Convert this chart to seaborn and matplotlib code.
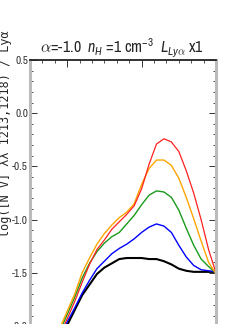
import matplotlib
matplotlib.use("Agg")
import matplotlib.pyplot as plt
import seaborn as sns
import pandas as pd
from matplotlib import font_manager
from matplotlib.ticker import MultipleLocator

# x grid and the five curves
x_vals = [-0.1, 0.0, 0.1, 0.2, 0.3, 0.4, 0.5, 0.6, 0.7, 0.8, 0.9,
          1.0, 1.1, 1.2, 1.3, 1.4, 1.5, 1.6, 1.7, 1.8, 1.9, 2.0]
red = [-2.08, -1.93, -1.77, -1.59, -1.42, -1.28, -1.19, -1.09, -1.02, -0.95, -0.87,
       -0.71, -0.48, -0.29, -0.24, -0.27, -0.36, -0.54, -0.75, -1.00, -1.28, -1.50]
orange = [-2.02, -1.86, -1.70, -1.50, -1.36, -1.23, -1.13, -1.05, -0.98, -0.93, -0.85,
          -0.67, -0.52, -0.44, -0.44, -0.49, -0.61, -0.79, -0.99, -1.20, -1.40, -1.51]
green = [-2.05, -1.89, -1.73, -1.55, -1.41, -1.30, -1.22, -1.16, -1.12, -1.04, -0.96,
         -0.86, -0.77, -0.73, -0.74, -0.79, -0.91, -1.08, -1.24, -1.37, -1.44, -1.50]
blue = [-2.10, -1.96, -1.83, -1.69, -1.57, -1.46, -1.39, -1.32, -1.27, -1.23, -1.18,
        -1.12, -1.07, -1.04, -1.06, -1.12, -1.24, -1.35, -1.43, -1.47, -1.48, -1.49]
black = [-2.13, -1.99, -1.85, -1.71, -1.61, -1.51, -1.45, -1.41, -1.37, -1.36, -1.36,
         -1.36, -1.37, -1.37, -1.39, -1.42, -1.46, -1.48, -1.49, -1.49, -1.49, -1.49]

title = r"$\alpha$=-1.0  $n_H$ =1 cm$^{-3}$  $L_{Ly\alpha}$ x1"
ylabel = "log([N V] λλ 1213,1218) / Lyα"

sns.set_style("white")
names = {f.name for f in font_manager.fontManager.ttflist}
narrow = "DejaVu Sans"
for cand in ["Liberation Sans Narrow", "Archivo Narrow", "Roboto Condensed",
             "PT Sans Narrow", "Barlow Condensed", "Asap Condensed"]:
    if cand in names:
        narrow = cand
        break
plt.rcParams["font.family"] = [narrow, "DejaVu Sans"]
plt.rcParams["mathtext.fontset"] = "custom"
plt.rcParams["mathtext.rm"] = narrow
plt.rcParams["mathtext.it"] = narrow + ":italic"
plt.rcParams["axes.unicode_minus"] = False

fig = plt.figure(figsize=(2.4, 3.24), dpi=100)
ax = fig.add_axes([0.125, -0.171, 0.775, 0.986])

series = [(black, "black", 1.5), (blue, "#0000ff", 1.0), (green, "#1a9a1a", 1.0),
          (orange, "#ffa500", 1.0), (red, "#ff2020", 0.9)]
for vals, col, lw in series:
    df = pd.DataFrame({"x": x_vals, "y": vals})
    sns.lineplot(data=df, x="x", y="y", ax=ax, color=col, linewidth=lw)

ax.set_xlim(-0.5, 2.0)
ax.set_ylim(-2.5, 0.5)
ax.xaxis.set_major_locator(MultipleLocator(1.0))
ax.xaxis.set_minor_locator(MultipleLocator(1.0 / 6))
ax.yaxis.set_major_locator(MultipleLocator(0.5))
ax.yaxis.set_minor_locator(MultipleLocator(0.1))
ax.tick_params(axis="both", which="both", direction="in", colors="#333333",
               top=True, right=True, bottom=True, left=True, labelbottom=False,
               labelsize=8, pad=1.5)
ax.tick_params(which="major", length=5, width=0.7)
ax.tick_params(which="minor", length=2.5, width=0.6)
ax.set_xlabel("")
ax.set_ylabel("")
for s in ["left", "right"]:
    ax.spines[s].set_color("#bbbbbb")
    ax.spines[s].set_linewidth(2.2)
ax.spines["top"].set_color("#222222")
ax.spines["top"].set_linewidth(1.3)
ax.set_yticklabels([f"{v:.1f}" for v in ax.get_yticks()])

fig.text(122 / 240, 1 - 53 / 324, title, ha="center", va="baseline", fontsize=11.5)
fig.text(6 / 240, 1 - 30 / 324, ylabel, rotation=90, rotation_mode="anchor",
         ha="right", va="center", fontsize=8.5, family="DejaVu Sans Mono")

fig.savefig("out.png", dpi=100)
